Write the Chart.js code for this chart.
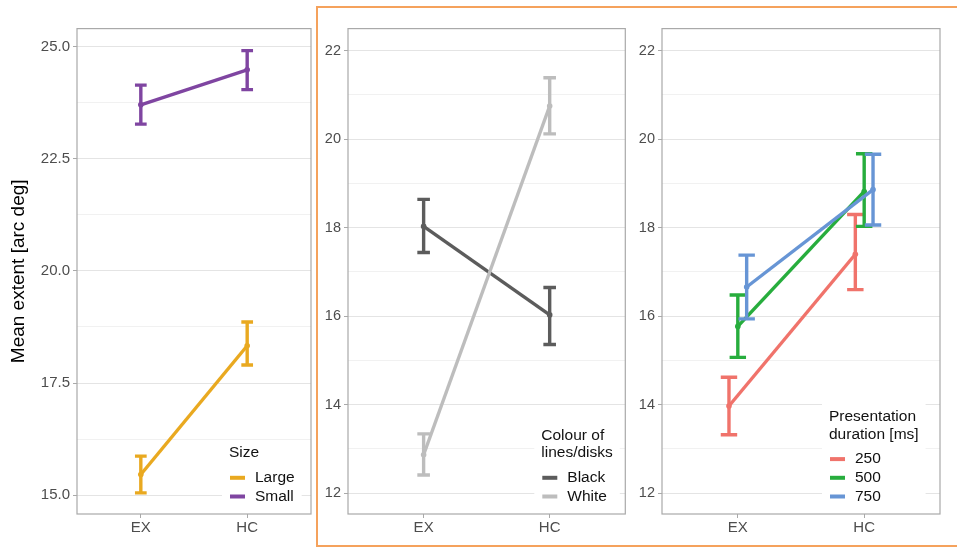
<!DOCTYPE html>
<html>
<head>
<meta charset="utf-8">
<script src="https://cdn.jsdelivr.net/npm/chart.js@4.4.0/dist/chart.umd.min.js"></script>
<style>
  html, body { margin: 0; padding: 0; background: #fff; }
  #page { position: relative; width: 957px; height: 547px; overflow: hidden; }
  canvas { position: absolute; top: 0; }
  #frame { position: absolute; left: 316px; top: 6px; width: 700px; height: 541px;
           border: 2px solid #f5a25c; box-sizing: border-box; }
</style>
</head>
<body>
<div id="page">
  <div id="frame"></div>
  <canvas id="c1" width="316" height="547" style="left:0px"></canvas>
  <canvas id="c2" width="320" height="547" style="left:318px"></canvas>
  <canvas id="c3" width="323" height="547" style="left:634px"></canvas>
</div>
<script>
// x categories
const conditions = ["EX", "HC"];

// panel 1: stimulus size
const largeMean = [15.46, 18.33];
const largeLow  = [15.05, 17.90];
const largeHigh = [15.87, 18.86];
const smallMean = [23.70, 24.48];
const smallLow  = [23.27, 24.04];
const smallHigh = [24.14, 24.91];

// panel 2: colour of lines/disks
const blackMean = [18.03, 16.03];
const blackLow  = [17.44, 15.36];
const blackHigh = [18.64, 16.65];
const whiteMean = [12.87, 20.75];
const whiteLow  = [12.41, 20.12];
const whiteHigh = [13.34, 21.39];

// panel 3: presentation duration
const ms250Mean = [13.97, 17.40];
const ms250Low  = [13.32, 16.60];
const ms250High = [14.62, 18.30];
const ms500Mean = [15.77, 18.82];
const ms500Low  = [15.07, 18.03];
const ms500High = [16.48, 19.67];
const ms750Mean = [16.66, 18.86];
const ms750Low  = [15.94, 18.06];
const ms750High = [17.38, 19.66];

const FONT = "'Liberation Sans', Arial, Helvetica, sans-serif";

// error bars, drawn right after each dataset so the layering follows the series
const errorBars = {
  id: "errorBars",
  afterDatasetDraw(chart, args, opts) {
    const ds = chart.data.datasets[args.index];
    const xs = chart.scales.x, ys = chart.scales.y;
    const ctx = chart.ctx;
    ctx.save();
    ctx.strokeStyle = ds.borderColor;
    ctx.lineWidth = 3.4;
    ds.data.forEach(p => {
      const px = xs.getPixelForValue(p.x);
      const half = xs.getPixelForValue(p.x + opts.cap / 2) - px;
      const yl = ys.getPixelForValue(p.low);
      const yh = ys.getPixelForValue(p.high);
      ctx.beginPath();
      ctx.moveTo(px, yl); ctx.lineTo(px, yh);
      ctx.moveTo(px - half, yl); ctx.lineTo(px + half, yl);
      ctx.moveTo(px - half, yh); ctx.lineTo(px + half, yh);
      ctx.stroke();
    });
    ctx.restore();
  }
};

// grey panel border + legend inside the plot (bottom right)
const panelDecor = {
  id: "panelDecor",
  afterDraw(chart, args, opts) {
    const ctx = chart.ctx;
    const a = chart.chartArea;
    ctx.save();

    // legend
    const left = a.right - opts.right;
    const lastY = a.bottom - 17.5;
    const sets = chart.data.datasets;
    const itemGap = 18.7;
    const firstItemY = lastY - itemGap * (sets.length - 1);
    const titleLast = firstItemY - 24.7;
    const titleFirst = titleLast - 17.5 * (opts.title.length - 1);
    ctx.font = "15.5px " + FONT;
    let w = 0;
    opts.title.forEach(t => { w = Math.max(w, ctx.measureText(t).width); });
    sets.forEach(d => { w = Math.max(w, 26 + ctx.measureText(d.label).width); });
    ctx.fillStyle = "#fff";
    ctx.fillRect(left - 7, titleFirst - 13, w + 14, lastY - titleFirst + 25);

    ctx.textBaseline = "middle";
    ctx.textAlign = "left";
    ctx.fillStyle = "#111";
    opts.title.forEach((t, i) => ctx.fillText(t, left, titleFirst + i * 17.5));
    sets.forEach((d, i) => {
      const y = firstItemY + i * itemGap;
      ctx.strokeStyle = d.borderColor;
      ctx.lineWidth = 4;
      ctx.beginPath();
      ctx.moveTo(left + 1, y); ctx.lineTo(left + 16, y);
      ctx.stroke();
      ctx.fillStyle = "#111";
      ctx.fillText(d.label, left + 26, y);
    });

    // panel border
    ctx.strokeStyle = "#a9a9a9";
    ctx.lineWidth = 1.2;
    ctx.strokeRect(a.left, a.top, a.right - a.left, a.bottom - a.top);
    ctx.restore();
  }
};

function makePanel(id, cfg) {
  const isMajor = v => Math.abs(v / cfg.major - Math.round(v / cfg.major)) < 1e-6;
  const n = cfg.series.length;
  const datasets = cfg.series.map((s, k) => ({
    label: s.label,
    data: conditions.map((c, i) => ({
      x: i + 1 + (k - (n - 1) / 2) * cfg.dodge,
      y: s.mean[i], low: s.low[i], high: s.high[i]
    })),
    borderColor: s.color,
    backgroundColor: s.color,
    borderWidth: 3.4,
    pointRadius: 2.8,
    pointBorderWidth: 0,
    tension: 0,
    order: -k
  }));

  new Chart(document.getElementById(id), {
    type: "line",
    data: { datasets },
    plugins: [errorBars, panelDecor],
    options: {
      responsive: false,
      animation: false,
      devicePixelRatio: 1,
      layout: { padding: { top: 28.6, right: cfg.padRight, left: 0, bottom: 0 } },
      plugins: {
        legend: { display: false },
        tooltip: { enabled: false },
        errorBars: { cap: cfg.cap },
        panelDecor: { title: cfg.legendTitle, right: cfg.legendRight }
      },
      scales: {
        x: {
          type: "linear",
          min: 0.4,
          max: 2.6,
          afterBuildTicks: s => { s.ticks = conditions.map((c, i) => ({ value: i + 1 })); },
          afterFit: s => { s.height = 33; },
          ticks: {
            callback: v => conditions[Math.round(v) - 1],
            color: "#4d4d4d",
            font: { family: FONT, size: 15 },
            padding: 1,
            autoSkip: false,
            maxRotation: 0
          },
          grid: { drawOnChartArea: false, tickColor: "#a9a9a9", tickLength: 4 },
          border: { display: false }
        },
        y: {
          type: "linear",
          min: cfg.yMin,
          max: cfg.yMax,
          afterFit: s => { s.width = cfg.axisWidth; },
          ticks: {
            stepSize: cfg.major / 2,
            includeBounds: false,
            autoSkip: false,
            color: "#4d4d4d",
            font: { family: FONT, size: cfg.tickSize },
            padding: 3,
            callback: v => isMajor(v) ? v.toFixed(cfg.decimals) : ""
          },
          grid: {
            color: c => isMajor(c.tick.value) ? "#e4e4e4" : "#f1f1f1",
            lineWidth: 1,
            tickColor: c => isMajor(c.tick.value) ? "#a9a9a9" : "rgba(0,0,0,0)",
            tickLength: 4
          },
          border: { display: false },
          title: {
            display: !!cfg.yTitle,
            text: cfg.yTitle || "",
            color: "#000",
            font: { family: FONT, size: 19 },
            padding: { top: 7, bottom: 0 }
          }
        }
      }
    }
  });
}

makePanel("c1", {
  series: [
    { label: "Large", mean: largeMean, low: largeLow, high: largeHigh, color: "#e9a920" },
    { label: "Small", mean: smallMean, low: smallLow, high: smallHigh, color: "#7f45a1" }
  ],
  yMin: 14.58, yMax: 25.4, major: 2.5, decimals: 1,
  yTitle: "Mean extent [arc deg]",
  axisWidth: 77, padRight: 5, tickSize: 15,
  cap: 0.11, dodge: 0,
  legendTitle: ["Size"], legendRight: 82
});

makePanel("c2", {
  series: [
    { label: "Black", mean: blackMean, low: blackLow, high: blackHigh, color: "#5c5c5c" },
    { label: "White", mean: whiteMean, low: whiteLow, high: whiteHigh, color: "#bdbdbd" }
  ],
  yMin: 11.53, yMax: 22.5, major: 2, decimals: 0,
  axisWidth: 30, padRight: 12.7, tickSize: 14.5,
  cap: 0.1, dodge: 0,
  legendTitle: ["Colour of", "lines/disks"], legendRight: 84
});

makePanel("c3", {
  series: [
    { label: "250", mean: ms250Mean, low: ms250Low, high: ms250High, color: "#f0736b" },
    { label: "500", mean: ms500Mean, low: ms500Low, high: ms500High, color: "#27ad3d" },
    { label: "750", mean: ms750Mean, low: ms750Low, high: ms750High, color: "#6795d5" }
  ],
  yMin: 11.53, yMax: 22.5, major: 2, decimals: 0,
  axisWidth: 28, padRight: 17, tickSize: 14.5,
  cap: 0.13, dodge: 0.07,
  legendTitle: ["Presentation", "duration [ms]"], legendRight: 111
});
</script>
</body>
</html>
